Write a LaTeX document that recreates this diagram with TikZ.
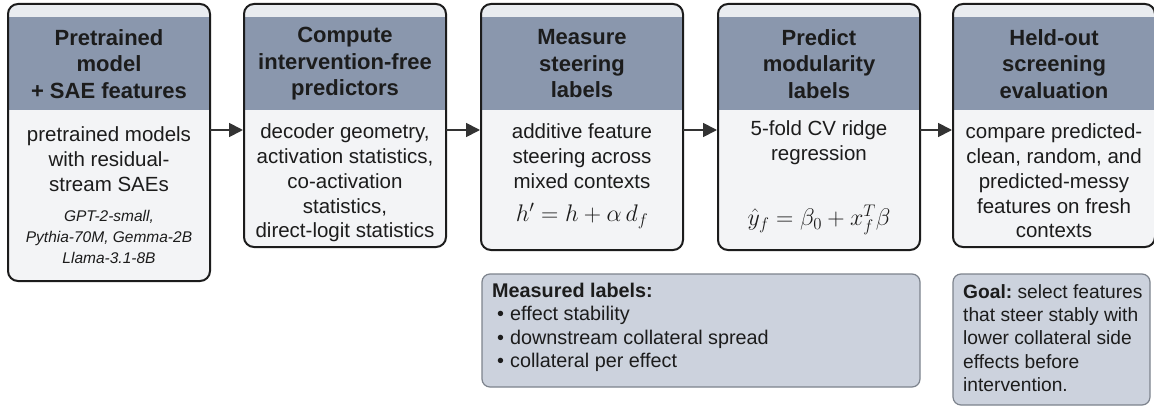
\RequirePackage{fix-cm}
\documentclass[tikz,border=0pt]{standalone}
\usepackage[no-math]{fontspec}
\setmainfont{Liberation Sans}
\usetikzlibrary{arrows.meta}
\definecolor{hdrc}{HTML}{8A97AD}
\definecolor{stripc}{HTML}{E9ECF0}
\definecolor{bodyc}{HTML}{F3F4F6}
\definecolor{notec}{HTML}{CCD2DD}
\definecolor{notedraw}{HTML}{7D838D}
\definecolor{ink}{HTML}{1C1C1C}
\definecolor{arrc}{HTML}{333333}
\tikzset{
  stagebox/.style={rectangle, rounded corners=10pt, fill=stripc, draw=none, outer sep=0pt, inner sep=0pt, anchor=north west, minimum width=202pt},
  stageborder/.style={draw=ink, line width=2pt, rounded corners=10pt},
  hdrtext/.style={font=\fontsize{22}{26.5}\selectfont\bfseries, text=ink, align=center},
  bodytext/.style={font=\fontsize{20.5}{24.7}\selectfont, text=ink, align=center},
  modeltext/.style={font=\fontsize{15.5}{21}\selectfont\itshape, text=ink, align=center},
  mathtext/.style={font=\fontsize{24}{28}\selectfont, text=ink},
  notebox/.style={rectangle, rounded corners=8pt, fill=notec, draw=notedraw, line width=1.2pt, anchor=north west, outer sep=0pt, inner sep=0pt},
  notetext/.style={font=\fontsize{19.8}{23.4}\selectfont, text=ink, align=left, anchor=north west, inner sep=0pt},
  arr/.style={draw=arrc, line width=1.8pt, -{Triangle[length=14pt,width=14pt]}, shorten >=1pt},
}
\begin{document}
\begin{tikzpicture}[x=1pt,y=-1pt]
\useasboundingbox[fill=white] (0,0) rectangle (1154,409);
% stage boxes
\node[stagebox, minimum height=277pt] (s1) at (8,4) {};
\node[stagebox, minimum height=243pt] (s2) at (244,4) {};
\node[stagebox, minimum height=246pt] (s3) at (481,4) {};
\node[stagebox, minimum height=246pt] (s4) at (718,4) {};
\node[stagebox, minimum height=243pt] (s5) at (953,4) {};
\foreach \s in {s1,s2,s3,s4,s5}{
  \fill[bodyc, rounded corners=10pt] (\s.west |- 0,100) rectangle (\s.south east);
  \fill[hdrc] (\s.west |- 0,17) rectangle (\s.east |- 0,110);
  \draw[stageborder] (\s.north west) rectangle (\s.south east);
}
% headers
\node[hdrtext] (h1) at (109,64) {Pretrained\\model\\+ SAE features};
\node[hdrtext] (h2) at (345,64) {Compute\\intervention-free\\predictors};
\node[hdrtext] (h3) at (582,64) {Measure\\steering\\labels};
\node[hdrtext] (h4) at (819,64) {Predict\\modularity\\labels};
\node[hdrtext] (h5) at (1054,64) {Held-out\\screening\\evaluation};
% bodies
\node[bodytext] (b1) at (109,159) {pretrained models\\with residual-\\stream SAEs};
\node[modeltext] (m1) at (109,237) {GPT-2-small,\\Pythia-70M, Gemma-2B\\Llama-3.1-8B};
\node[bodytext] (b2) at (345,183) {decoder geometry,\\activation statistics,\\co-activation\\statistics,\\direct-logit statistics};
\node[bodytext] (b3) at (582,156) {additive feature\\steering across\\mixed contexts};
\node[mathtext] (e3) at (582,216) {$h' = h + \alpha\, d_f$};
\node[bodytext] (b4) at (819,143) {5-fold CV ridge\\regression};
\node[mathtext] (e4) at (819,220) {$\hat{y}_f = \beta_0 + x_f^T\beta$};
\node[bodytext] (b5) at (1054,181) {compare predicted-\\clean, random, and\\predicted-messy\\features on fresh\\contexts};
% arrows
\coordinate (ay) at (0,130);
\draw[arr] (s1.east |- ay) -- (s2.west |- ay);
\draw[arr] (s2.east |- ay) -- (s3.west |- ay);
\draw[arr] (s3.east |- ay) -- (s4.west |- ay);
\draw[arr] (s4.east |- ay) -- (s5.west |- ay);
% notes
\node[notebox, minimum width=438pt, minimum height=113pt] (n1) at (482,274) {};
\node[notetext] (t1) at (492,283) {\textbf{Measured labels:}\\
\hspace*{5pt}\textbullet\hspace{6pt}effect stability\\
\hspace*{5pt}\textbullet\hspace{6pt}downstream collateral spread\\
\hspace*{5pt}\textbullet\hspace{6pt}collateral per effect};
\node[notebox, minimum width=197pt, minimum height=131pt] (n2) at (953,274) {};
\node[notetext, font=\fontsize{19.2}{23.4}\selectfont] (t2) at (963,284) {\textbf{Goal:}\ select features\\that steer stably with\\lower collateral side\\effects before\\intervention.};
\end{tikzpicture}
\end{document}
